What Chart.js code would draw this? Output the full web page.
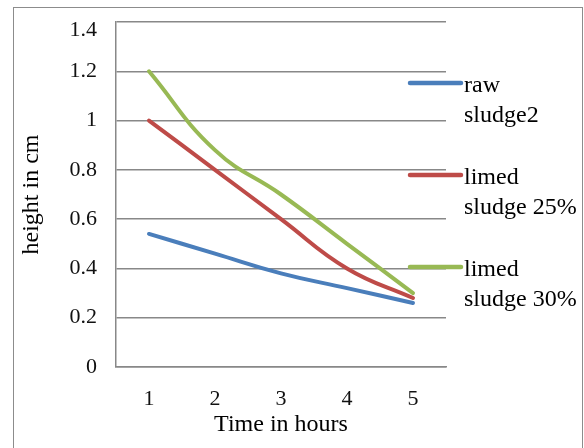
<!DOCTYPE html>
<html>
<head>
<meta charset="utf-8">
<script src="https://cdn.jsdelivr.net/npm/chart.js@4/dist/chart.umd.min.js"></script>
<style>
  html, body { margin: 0; padding: 0; background: #fff; }
  canvas { display: block; }
</style>
</head>
<body>
<canvas id="c" width="584" height="448"></canvas>
<script>
// ---- data ----
const hours = ['1', '2', '3', '4', '5'];
const rawSludge2 = [0.54, 0.46, 0.38, 0.32, 0.26];
const limed25 = [1.0, 0.8, 0.6, 0.4, 0.28];
const limed30 = [1.2, 0.88, 0.7, 0.5, 0.3];
const legendLines = [['raw', 'sludge2'], ['limed', 'sludge 25%'], ['limed', 'sludge 30%']];
const yMin = 0, yMax = 1.4, yStep = 0.2;

const FONT = "'Liberation Serif', 'Times New Roman', serif";
const colors = ['#4A7EBB', '#BE4B48', '#98B954'];
const seriesData = [rawSludge2, limed25, limed30];

const bgAndBorder = {
  id: 'bgAndBorder',
  beforeDraw(chart) {
    const ctx = chart.ctx;
    ctx.save();
    ctx.fillStyle = '#fff';
    ctx.fillRect(0, 0, chart.width, chart.height);
    ctx.strokeStyle = '#8c8c8c';
    ctx.lineWidth = 1;
    ctx.strokeRect(13.5, 7.5, 569, 500);
    ctx.restore();
  }
};

const sideLegend = {
  id: 'sideLegend',
  afterDraw(chart) {
    const ctx = chart.ctx;
    ctx.save();
    chart.data.datasets.forEach((ds, i) => {
      const y = 83 + i * 92;
      ctx.strokeStyle = ds.borderColor;
      ctx.lineWidth = 4.5;
      ctx.lineCap = 'round';
      ctx.beginPath();
      ctx.moveTo(410, y);
      ctx.lineTo(461, y);
      ctx.stroke();
      ctx.fillStyle = '#000';
      ctx.font = '24px ' + FONT;
      ctx.textAlign = 'left';
      ctx.textBaseline = 'alphabetic';
      legendLines[i].forEach((t, j) => {
        ctx.fillText(t, 464, y + 9 + j * 30);
      });
    });
    ctx.restore();
  }
};

new Chart(document.getElementById('c'), {
  type: 'line',
  data: {
    labels: hours,
    datasets: seriesData.map((d, i) => ({
      label: legendLines[i].join(' '),
      data: d,
      borderColor: colors[i],
      backgroundColor: colors[i],
      borderWidth: 4,
      pointRadius: 0,
      tension: 0.45,
      borderCapStyle: 'round',
      fill: false
    }))
  },
  options: {
    responsive: false,
    animation: false,
    devicePixelRatio: 1,
    layout: { padding: { left: 0, right: 138, top: 22, bottom: 0 } },
    plugins: { legend: { display: false }, tooltip: { enabled: false } },
    scales: {
      x: {
        offset: true,
        grid: { display: false, drawTicks: false },
        border: { display: true, color: '#888', width: 1.5 },
        ticks: { color: '#111', padding: 19, font: { family: FONT, size: 22 }, maxRotation: 0 },
        title: { display: true, text: 'Time in hours', color: '#000', font: { family: FONT, size: 24 }, padding: { top: 0, bottom: 9 } },
        afterFit(scale) { scale.height = 81; scale.paddingLeft = 0; scale.paddingRight = 0; }
      },
      y: {
        min: yMin, max: yMax,
        grid: { color: '#888', lineWidth: 1.5, drawTicks: false },
        border: { display: true, color: '#888', width: 1.5 },
        ticks: {
          stepSize: yStep, color: '#111', padding: 19,
          font: { family: FONT, size: 22, lineHeight: 0.73 },
          callback(v) {
            const s = String(Math.round(v * 10) / 10);
            return Math.abs(v - yMax) < 1e-9 ? ['', s] : s;
          }
        },
        title: { display: true, text: 'height in cm', color: '#000', font: { family: FONT, size: 24 }, padding: { top: 17, bottom: 0 } },
        afterFit(scale) { scale.width = 116; scale.paddingTop = 0; scale.paddingBottom = 0; }
      }
    }
  },
  plugins: [bgAndBorder, sideLegend]
});
</script>
</body>
</html>
